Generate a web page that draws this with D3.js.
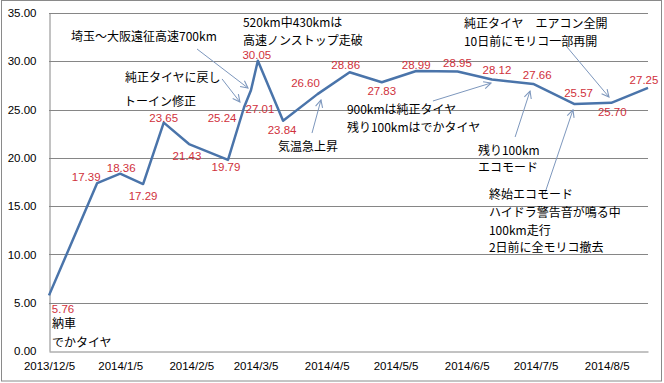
<!DOCTYPE html>
<html>
<head>
<meta charset="utf-8">
<script src="https://cdn.jsdelivr.net/npm/d3@7"></script>
<style>
  body { margin: 0; background: #fff; }
  svg { display: block; font-family: "Liberation Sans", Arial, sans-serif; }
  .tick text { font-size: 11.5px; fill: #000; }
  .lbl { font-size: 11.5px; fill: #d0313c; }
  .note { font-family: "Noto Sans CJK JP", sans-serif; font-size: 12px; fill: #000; }
</style>
</head>
<body>
<svg id="chart" width="664" height="383"></svg>
<script>
// fuel economy (km/L) per fill-up
const dates = ["2013/12/5", "2013/12/26", "2014/1/5", "2014/1/15", "2014/1/24", "2014/2/4",
  "2014/2/21", "2014/2/28", "2014/3/3", "2014/3/6", "2014/3/17", "2014/4/1", "2014/4/15",
  "2014/4/29", "2014/5/14", "2014/6/1", "2014/6/16", "2014/7/4", "2014/7/22", "2014/8/7", "2014/8/23"];
const mileage = [5.76, 17.39, 18.36, 17.29, 23.65, 21.43, 19.79, 25.24, 27.01, 30.05, 23.84,
  26.60, 28.86, 27.83, 28.99, 28.95, 28.12, 27.66, 25.57, 25.70, 27.25];

const xTickLabels = ["2013/12/5", "2014/1/5", "2014/2/5", "2014/3/5", "2014/4/5",
  "2014/5/5", "2014/6/5", "2014/7/5", "2014/8/5"];
const yTicks = [0, 5, 10, 15, 20, 25, 30, 35];

// label nudges (px) from each point, label centre
const labelOffsets = [[14, 14], [-11, -6], [1, -6], [0, 12], [0, -5], [-2, 12], [-2, 7], [-22, 11],
  [9, 19], [-1, -6], [-1, 9], [-12, -11], [-4, -7], [0, 8.5], [0, -6], [0, -8], [5, -9],
  [4, -9], [4, -11], [1, 9], [-4, -8]];

// comments: days after first date, value, lines, line step
const noteDays = [9.6, 33.1, 32.7, 84.5, 99.8, 129.8, 180.8, 186.9, 191.7, 1.3];
const noteValues = [32.5, 28.27, 25.78, 33.96, 21.12, 24.96, 33.86, 20.71, 16.15, 2.8];
const noteTexts = [
  ["埼玉～大阪遠征高速700km"],
  ["純正タイヤに戻し"],
  ["トーイン修正"],
  ["520km中430kmは", "高速ノンストップ走破"],
  ["気温急上昇"],
  ["900kmは純正タイヤ", "残り100kmはでかタイヤ"],
  ["純正タイヤ　エアコン全開", "10日前にモリコ一部再開"],
  ["残り100km", "エコモード"],
  ["終始エコモード", "ハイドラ警告音が鳴る中", "100km走行", "2日前に全モリコ撤去"],
  ["納車", "でかタイヤ"]
];
const noteSteps = [0, 0, 0, 17.5, 0, 17.5, 18, 17, 17.7, 19];

// arrows: from [day, value] to [day, value]
const arrowFrom = [[64.5, 31.27], [75.4, 28.17], [114.6, 22.57], [167.3, 25.89], [203.1, 22.16], [216.1, 16.36], [225.7, 31.48]];
const arrowTo = [[86.7, 27.23], [83.2, 25.78], [118.5, 25.99], [192.6, 27.75], [209.6, 26.92], [228.3, 24.96], [244.0, 26.3]];

const parse = d3.timeParse("%Y/%-m/%-d");
const fmt = d3.timeFormat("%Y/%-m/%-d");
const data = dates.map((d, i) => ({ date: parse(d), value: mileage[i] }));

const margin = { top: 13, right: 16, bottom: 32, left: 49 };
const width = 664, height = 383;

const svg = d3.select("#chart");

svg.append("rect")
  .attr("x", 1.5).attr("y", 0.5)
  .attr("width", 660).attr("height", 380.5)
  .attr("fill", "#fff").attr("stroke", "#8a8a8a");

const x = d3.scaleTime()
  .domain(d3.extent(data, d => d.date))
  .range([margin.left, width - margin.right]);
const y = d3.scaleLinear()
  .domain([0, 35])
  .range([height - margin.bottom, margin.top]);

const dayX = day => x(new Date(data[0].date.getTime() + day * 864e5));

// grid
svg.append("g")
  .selectAll("line")
  .data(yTicks.slice(1))
  .enter().append("line")
  .attr("x1", margin.left).attr("x2", width - margin.right)
  .attr("y1", d => Math.round(y(d)) + 0.5).attr("y2", d => Math.round(y(d)) + 0.5)
  .attr("stroke", "#868686");

const yAxis = svg.append("g")
  .attr("transform", "translate(" + (margin.left + 0.5) + ",0)")
  .call(d3.axisLeft(y).tickValues(yTicks).tickFormat(d3.format(".2f")).tickSize(0).tickPadding(13));
yAxis.select(".domain").attr("stroke", "#868686");

const xAxis = svg.append("g")
  .attr("transform", "translate(0," + (Math.round(y(0)) + 0.5) + ")")
  .call(d3.axisBottom(x).tickValues(xTickLabels.map(parse)).tickFormat(fmt).tickSize(0).tickPadding(10));
xAxis.select(".domain").attr("stroke", "#868686");

// series line
svg.append("path")
  .datum(data)
  .attr("fill", "none")
  .attr("stroke", "#4a74aa")
  .attr("stroke-width", 2.5)
  .attr("stroke-linejoin", "round")
  .attr("d", d3.line().x(d => x(d.date)).y(d => y(d.value)));

// value labels
svg.append("g")
  .selectAll("text")
  .data(data)
  .enter().append("text")
  .attr("class", "lbl")
  .attr("text-anchor", "middle")
  .attr("x", (d, i) => x(d.date) + labelOffsets[i][0])
  .attr("y", (d, i) => y(d.value) + labelOffsets[i][1])
  .attr("dy", "0.35em")
  .text(d => d.value.toFixed(2));

// arrows
svg.append("defs").append("marker")
  .attr("id", "head")
  .attr("viewBox", "0 0 10 10")
  .attr("refX", 9).attr("refY", 5)
  .attr("markerWidth", 9).attr("markerHeight", 9)
  .attr("markerUnits", "userSpaceOnUse")
  .attr("orient", "auto")
  .append("path")
  .attr("d", "M1,1 L9,5 L1,9")
  .attr("fill", "none")
  .attr("stroke", "#7d97bd")
  .attr("stroke-width", 1.2);

svg.append("g")
  .selectAll("line")
  .data(arrowFrom)
  .enter().append("line")
  .attr("x1", d => dayX(d[0])).attr("y1", d => y(d[1]))
  .attr("x2", (d, i) => dayX(arrowTo[i][0])).attr("y2", (d, i) => y(arrowTo[i][1]))
  .attr("stroke", "#7d97bd")
  .attr("stroke-width", 1)
  .attr("marker-end", "url(#head)");

// comments
const notes = svg.append("g")
  .selectAll("text")
  .data(noteTexts)
  .enter().append("text")
  .attr("class", "note")
  .attr("x", (d, i) => dayX(noteDays[i]))
  .attr("y", (d, i) => y(noteValues[i]));

notes.each(function(lines, i) {
  const t = d3.select(this);
  lines.forEach((s, k) => {
    t.append("tspan")
      .attr("x", dayX(noteDays[i]))
      .attr("y", y(noteValues[i]) + k * noteSteps[i])
      .attr("dy", "0.35em")
      .text(s);
  });
});
</script>
</body>
</html>
